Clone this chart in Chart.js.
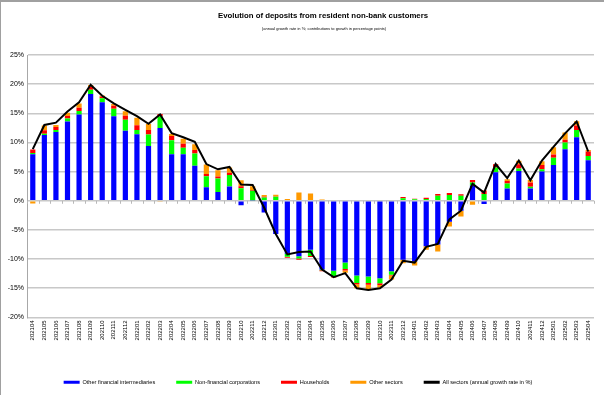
<!DOCTYPE html>
<html><head><meta charset="utf-8">
<script src="https://cdn.jsdelivr.net/npm/chart.js@4/dist/chart.umd.min.js"></script>
<style>html,body{margin:0;padding:0;background:#fff}#wrap{width:604px;height:395px;position:relative}</style>
</head><body><div id="wrap"><canvas id="c" width="604" height="395"></canvas></div>
<script>
const months = ["202104","202105","202106","202107","202108","202109","202110","202111","202112",
"202201","202202","202203","202204","202205","202206","202207","202208","202209","202210","202211","202212",
"202301","202302","202303","202304","202305","202306","202307","202308","202309","202310","202311","202312",
"202401","202402","202403","202404","202405","202406","202407","202408","202409","202410","202411","202412",
"202501","202502","202503","202504"];
const otherFinancial = [8.0,11.3,11.8,13.6,14.8,18.3,16.9,14.5,12.0,
11.4,9.4,12.5,8.0,8.0,6.0,2.3,1.5,2.45,-0.75,0.1,-2.0,
-5.7,-9.1,-9.5,-8.4,-11.8,-12.0,-10.6,-12.8,-13.0,-13.3,-12.1,-10.1,
-10.4,-7.8,-7.5,-3.6,-1.7,2.6,-0.55,4.9,2.1,5.1,2.1,5.0,
6.15,8.85,10.9,6.95];
const nonFinancial = [0.2,0.2,0.35,0.5,0.6,0.75,0.7,1.3,1.9,
0.75,1.95,1.95,2.4,1.1,2.1,1.9,2.3,1.95,2.15,1.6,0.55,
0.7,-0.5,-0.4,-1.05,-0.1,-1.0,-1.1,-1.3,-1.1,-0.85,-0.6,0.45,
0.25,0.3,0.85,1.0,0.85,0.55,1.15,0.8,0.85,0.45,0.3,0.4,
1.25,1.15,1.25,0.75];
const households = [0.6,0.6,0.5,0.45,0.55,0.5,0.3,0.5,0.7,
0.8,0.8,0.45,0.7,0.7,0.6,0.4,0.35,0.4,0.35,0.15,0.15,
0.05,-0.15,-0.2,-0.2,-0.2,-0.1,-0.25,-0.2,-0.3,-0.3,-0.1,0.2,
0.1,0.2,0.3,0.35,0.25,0.4,0.55,0.55,0.45,0.7,0.75,0.75,
0.55,0.45,0.75,0.75];
const otherSectors = [-0.45,0.8,0.35,0.55,0.75,0.3,0.15,0.3,0.75,
1.3,1.0,-0.15,0.35,0.85,1.0,1.6,1.1,0.9,1.0,0.65,0.3,
0.3,0.3,1.4,1.25,0.2,-0.1,-0.4,-0.7,-0.75,-0.45,-0.7,-0.6,
-0.7,-0.6,-1.2,-0.8,-1.0,-0.7,0.1,0.05,0.3,0.6,0.4,0.65,
1.25,1.25,0.75,0.25];
const allSectors = [8.85,13.0,13.4,15.3,16.9,19.9,18.0,16.7,15.6,
14.5,13.2,14.8,11.6,10.9,10.1,6.3,5.4,5.8,2.8,2.7,-1.2,
-5.7,-9.2,-8.8,-8.7,-11.8,-13.1,-12.4,-15.0,-15.3,-15.0,-13.5,-10.3,
-10.6,-7.9,-7.4,-3.2,-1.7,2.9,1.4,6.3,3.9,6.9,3.5,6.9,
9.25,11.55,13.6,8.45];
const yMin = -20, yMax = 25, yStep = 5;
const titleText = "Evolution of deposits from resident non-bank customers";
const subtitleText = "(annual growth rate in %; contributions to growth in percentage points)";
const seriesNames = ["Other financial intermediaries","Non-financial corporations","Households","Other sectors","All sectors (annual growth rate in %)"];
const colors = ["#0000FF","#00FF00","#FF0000","#FF9900","#000000"];

const FONT = "'Liberation Sans', Arial, sans-serif";

const decor = {
  id: 'decor',
  beforeDraw(chart) {
    const {ctx, width, height} = chart;
    ctx.save();
    ctx.fillStyle = '#fff';
    ctx.fillRect(0, 0, width, height);
    ctx.restore();
  },
  beforeDatasetsDraw(chart) {
    const {ctx} = chart;
    const x = chart.scales.x, y = chart.scales.y;
    const y0 = y.getPixelForValue(0);
    const half = x.width / months.length / 2;
    ctx.save();
    ctx.strokeStyle = '#b8b8b8';
    ctx.lineWidth = 1;
    ctx.beginPath();
    for (let i = 0; i <= months.length; i++) {
      const px = Math.round(i < months.length ? x.getPixelForValue(i) - half : x.getPixelForValue(i - 1) + half) + 0.5;
      ctx.moveTo(px, y0);
      ctx.lineTo(px, y0 + 3);
    }
    ctx.stroke();
    ctx.restore();
  },
  afterDraw(chart) {
    const {ctx, width, height} = chart;
    ctx.save();
    ctx.fillStyle = '#000';
    ctx.textAlign = 'center';
    ctx.textBaseline = 'middle';
    ctx.font = "bold 7.8px " + FONT;
    ctx.fillText(titleText, 323, 16);
    ctx.font = "4px " + FONT;
    ctx.fillText(subtitleText, 324, 29);
    ctx.strokeStyle = '#a0a0a0';
    ctx.lineWidth = 2;
    ctx.beginPath();
    ctx.moveTo(0, 1); ctx.lineTo(width, 1);
    ctx.stroke();
    ctx.lineWidth = 1;
    ctx.beginPath();
    ctx.moveTo(0.5, 0); ctx.lineTo(0.5, height);
    ctx.stroke();
    ctx.restore();
  }
};

const barCommon = {type: 'bar', stack: 'bars', barPercentage: 0.45, categoryPercentage: 1.0, borderWidth: 0, order: 1};
new Chart(document.getElementById('c'), {
  data: {
    labels: months,
    datasets: [
      Object.assign({label: seriesNames[0], data: otherFinancial, backgroundColor: colors[0]}, barCommon),
      Object.assign({label: seriesNames[1], data: nonFinancial, backgroundColor: colors[1]}, barCommon),
      Object.assign({label: seriesNames[2], data: households, backgroundColor: colors[2]}, barCommon),
      Object.assign({label: seriesNames[3], data: otherSectors, backgroundColor: colors[3]}, barCommon),
      {type: 'line', stack: 'line', label: seriesNames[4], data: allSectors, borderColor: colors[4], backgroundColor: colors[4],
       borderWidth: 2, pointRadius: 0, tension: 0, order: 0, fill: false}
    ]
  },
  options: {
    responsive: false,
    animation: false,
    devicePixelRatio: 1,
    layout: {padding: {top: 55, left: 2, right: 10, bottom: 0}},
    plugins: {
      title: {display: false},
      tooltip: {enabled: false},
      legend: {
        position: 'bottom',
        labels: {
          color: '#000',
          font: {family: FONT, size: 5.6},
          boxWidth: 16,
          boxHeight: 3,
          padding: 21,
          sort: (a, b) => a.datasetIndex - b.datasetIndex,
          generateLabels(chart) {
            return chart.data.datasets.map((ds, i) => ({
              text: ds.label, fillStyle: colors[i], strokeStyle: colors[i], lineWidth: 0,
              hidden: false, datasetIndex: i, fontColor: '#000'
            }));
          }
        }
      }
    },
    scales: {
      x: {
        stacked: true,
        grid: {display: false, drawTicks: false},
        border: {display: false},
        ticks: {minRotation: 90, maxRotation: 90, autoSkip: false, font: {family: FONT, size: 6}, color: '#000', padding: 3},
        afterFit(scale) { scale.height = 41; }
      },
      y: {
        stacked: true,
        min: yMin, max: yMax,
        ticks: {stepSize: yStep, callback: v => v + '%', font: {family: FONT, size: 7}, color: '#000', padding: 3},
        grid: {color: '#c8c8c8', lineWidth: 1.5, drawTicks: false},
        border: {display: true, color: '#a8a8a8', width: 1},
        afterFit(scale) { scale.width = 25; }
      }
    }
  },
  plugins: [decor]
});
</script>
</body></html>
